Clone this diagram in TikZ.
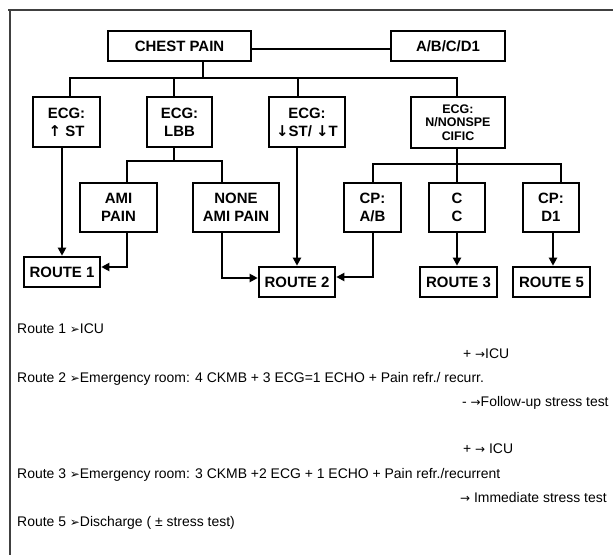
\documentclass[tikz,border=0pt]{standalone}
\usepackage{fontspec}
\setmainfont{Liberation Sans}
\newfontfamily\dingfont{DejaVu Sans}
\usetikzlibrary{arrows.meta}
\tikzset{
  box/.style={draw, line width=2.6pt, rectangle, inner sep=0pt, align=center, font=\bfseries\fontsize{15}{18}\selectfont},
  conn/.style={line width=2pt},
  arr/.style={line width=2pt, -{Triangle[length=8bp,width=8bp]}},
  txt/.style={anchor=base west, inner sep=0pt, font=\fontsize{14}{16}\selectfont},
}
\newcommand{\pt}{{\dingfont\fontsize{12}{12}\selectfont ➢}}
\newcommand{\rar}{{\dingfont\fontsize{12}{12}\selectfont →}}
\newcommand{\uar}{{\dingfont\fontsize{15}{15}\selectfont ↑}}
\newcommand{\dar}{{\dingfont\fontsize{15}{15}\selectfont ↓}}
\begin{document}
\begin{tikzpicture}[x=1bp,y=-1bp]
\useasboundingbox (0,0) rectangle (613,555);
\draw[line width=1.8pt, black!75] (8,10) -- (613,10);
\draw[line width=1.4pt, black!75] (10,10) -- (10,555);
% row 1
\node[box, minimum width=143bp, minimum height=30bp] (cp) at (179.5,46) {CHEST PAIN};
\node[box, minimum width=114bp, minimum height=30bp] (abcd) at (448,46) {A/B/C/D1};
\draw[conn] ([yshift=-3bp]cp.east) -- ([yshift=-3bp]abcd.west);
% ECG row
\node[box, minimum width=67bp, minimum height=50bp] (e1) at (66.5,122) {ECG:\\\uar\ ST};
\node[box, minimum width=65bp, minimum height=50bp] (e2) at (179.5,122) {ECG:\\LBB};
\node[box, minimum width=76bp, minimum height=50bp] (e3) at (307,122) {ECG:\\\dar ST/ \dar T};
\node[box, minimum width=94bp, minimum height=51bp, font=\bfseries\fontsize{12.5}{13.3}\selectfont] (e4) at (458,122.5) {ECG:\\N/NONSPE\\CIFIC};
\coordinate (bus) at (203,78);
\draw[conn] (cp.south -| bus) -- (bus);
\draw[conn] (e1.north -| 70,0) |- (bus) -| (e4.north -| 457,0);
\draw[conn] (e2.north -| 174,0) -- (174,78);
\draw[conn] (e3.north -| 298,0) -- (298,78);
% second row
\node[box, minimum width=77bp, minimum height=49bp] (ami) at (118.5,207.5) {AMI\\PAIN};
\node[box, minimum width=86bp, minimum height=49bp] (none) at (236,207.5) {NONE\\AMI PAIN};
\node[box, minimum width=57bp, minimum height=49bp] (cpab) at (372.5,207.5) {CP:\\A/B};
\node[box, minimum width=56bp, minimum height=49bp] (cc) at (457,207.5) {C\\C};
\node[box, minimum width=56bp, minimum height=49bp] (cpd) at (551,207.5) {CP:\\D1};
% routes
\node[box, minimum width=76bp, minimum height=30bp] (r1) at (62,272) {ROUTE 1};
\node[box, minimum width=76bp, minimum height=30bp] (r2) at (297,282) {ROUTE 2};
\node[box, minimum width=77bp, minimum height=30bp] (r3) at (458.5,282) {ROUTE 3};
\node[box, minimum width=77bp, minimum height=30bp] (r5) at (551.5,282) {ROUTE 5};
% buses
\draw[conn] (e2.south -| 174,0) -- (174,161);
\draw[conn] (ami.north -| 127,0) |- (174,161) -| (none.north -| 222,0);
\draw[conn] (e4.south -| 457,0) -- (457,164);
\draw[conn] (cpab.north -| 373,0) |- (457,164) -| (cpd.north -| 561,0);
\draw[conn] (457,164) -- (cc.north -| 457,0);
% arrows
\draw[arr] (e1.south -| 62,0) -- (r1.north -| 62,0);
\draw[arr] (ami.south -| 127,0) |- ([yshift=5bp]r1.east);
\draw[arr] (none.south -| 222,0) |- ([yshift=4bp]r2.west);
\draw[arr] (e3.south -| 297,0) -- (r2.north -| 297,0);
\draw[arr] (cpab.south -| 373,0) |- ([yshift=5bp]r2.east);
\draw[arr] (cc.south -| 457,0) -- (r3.north -| 457,0);
\draw[arr] (cpd.south -| 553,0) -- (r5.north -| 553,0);
% text
\node[txt] (t1) at (17,333) {Route 1 \pt ICU};
\node[txt] (t2a) at (463,358) {+ \rar ICU};
\node[txt] (t2) at (17,382) {Route 2 \pt Emergency room: 4 CKMB + 3 ECG=1 ECHO + Pain refr./ recurr.};
\node[txt] (t2b) at (462,406) {- \rar Follow-up stress test};
\node[txt] (t3a) at (463,453) {+ \rar\ ICU};
\node[txt] (t3) at (17,478) {Route 3 \pt Emergency room: 3 CKMB +2 ECG + 1 ECHO + Pain refr./recurrent};
\node[txt] (t3b) at (460,502) {\rar\ Immediate stress test};
\node[txt] (t5) at (17,526) {Route 5 \pt Discharge ( ± stress test)};
\end{tikzpicture}
\end{document}
